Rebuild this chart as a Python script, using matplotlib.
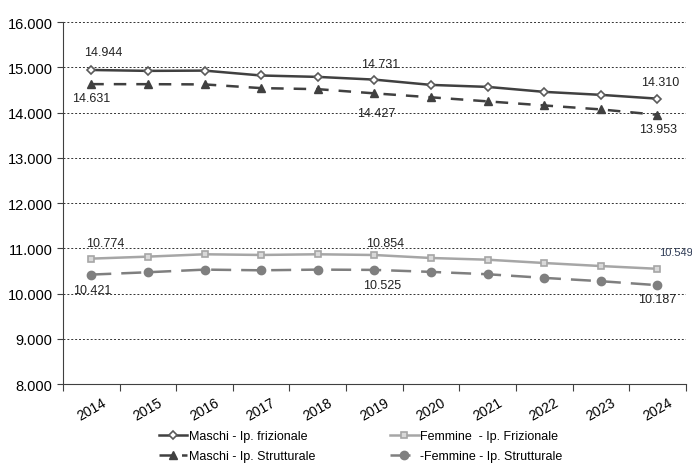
import numpy as np
import matplotlib
matplotlib.use('Agg')
import matplotlib.pyplot as plt
from matplotlib.ticker import FuncFormatter

plt.rcParams['font.family'] = ['Liberation Sans', 'DejaVu Sans']

# data
years = ['2014', '2015', '2016', '2017', '2018', '2019',
         '2020', '2021', '2022', '2023', '2024']
maschi_friz = [14944, 14924, 14930, 14822, 14791, 14731,
               14614, 14570, 14460, 14394, 14310]
maschi_strutt = [14631, 14630, 14625, 14543, 14520, 14427,
                 14340, 14250, 14160, 14072, 13953]
femmine_friz = [10774, 10818, 10870, 10855, 10870, 10854,
                10788, 10750, 10677, 10610, 10549]
femmine_strutt = [10421, 10473, 10531, 10516, 10531, 10525,
                  10481, 10429, 10348, 10275, 10187]

labels = ['Maschi - Ip. frizionale', 'Maschi - Ip. Strutturale',
          'Femmine  - Ip. Frizionale', '-Femmine - Ip. Strutturale']

fig = plt.figure(figsize=(6.92, 4.64), dpi=100)
ax = fig.add_axes([0.091, 0.170, 0.900, 0.780])

x = np.arange(len(years))

ax.plot(x, maschi_friz, color='#404040', lw=1.8, marker='D', ms=4.5,
        mfc='white', mec='#5a5a5a', mew=1.2, label=labels[0])
ax.plot(x, maschi_strutt, color='#404040', lw=1.8, ls=(0, (5, 4)),
        marker='^', ms=6, mfc='#404040', mec='#404040', label=labels[1])
ax.plot(x, femmine_friz, color='#a6a6a6', lw=1.8, marker='s', ms=5,
        mfc='#d9d9d9', mec='#a6a6a6', mew=1.2, label=labels[2])
ax.plot(x, femmine_strutt, color='#7f7f7f', lw=1.8, ls=(0, (8, 4)),
        marker='o', ms=6, mfc='#7f7f7f', mec='#7f7f7f', label=labels[3])

def fmt(v):
    return '{:,}'.format(int(v)).replace(',', '.')

# value labels: (series, index, offset in points)
notes = [
    (maschi_friz, 0, (8.6, 13)), (maschi_friz, 5, (4.3, 11.5)),
    (maschi_friz, 10, (2, 12)),
    (maschi_strutt, 0, (0, -10)), (maschi_strutt, 5, (1.4, -14.4)),
    (maschi_strutt, 10, (0.7, -10)),
    (femmine_friz, 0, (10, 11)), (femmine_friz, 5, (8, 8.6)),
    (femmine_strutt, 0, (0.7, -11)), (femmine_strutt, 5, (5.8, -10.8)),
    (femmine_strutt, 10, (0, -10)),
]
for ser, i, off in notes:
    ax.annotate(fmt(ser[i]), (x[i], ser[i]), xytext=off,
                textcoords='offset points', ha='center', va='center',
                fontsize=9, color='#222222')
ax.annotate(fmt(femmine_friz[10]), (x[10], femmine_friz[10]), xytext=(1.5, 12),
            textcoords='offset points', ha='left', va='center', fontsize=8,
            color='#2e3b55', annotation_clip=False)

ax.set_xlim(-0.5, len(years) - 0.5)
ax.set_ylim(8000, 16000)
ax.set_yticks(np.arange(8000, 16001, 1000))
ax.yaxis.set_major_formatter(FuncFormatter(lambda v, p: fmt(v)))
ax.set_xticks(x)
ax.set_xticklabels(years, rotation=30, fontsize=10)
ax.set_xticks(np.arange(-0.5, len(years), 1), minor=True)
ax.tick_params(axis='x', which='major', length=0, pad=8)
ax.tick_params(axis='x', which='minor', length=5, width=0.8, color='#404040')
ax.tick_params(axis='y', length=4, width=0.8, color='#404040', labelsize=10.5)

ax.grid(axis='y', ls=(0, (2, 2)), color='#333333', lw=0.7)
ax.set_axisbelow(True)
for s in ('top', 'right'):
    ax.spines[s].set_visible(False)
ax.spines['left'].set_color('#404040')
ax.spines['bottom'].set_color('#404040')

fig.legend(loc='lower left', bbox_to_anchor=(0.213, -0.022), ncol=2,
           frameon=False, fontsize=9, handlelength=2.3, handletextpad=0.1,
           columnspacing=6.0, labelspacing=0.6)

plt.savefig('out.png', dpi=100)
plt.close()
